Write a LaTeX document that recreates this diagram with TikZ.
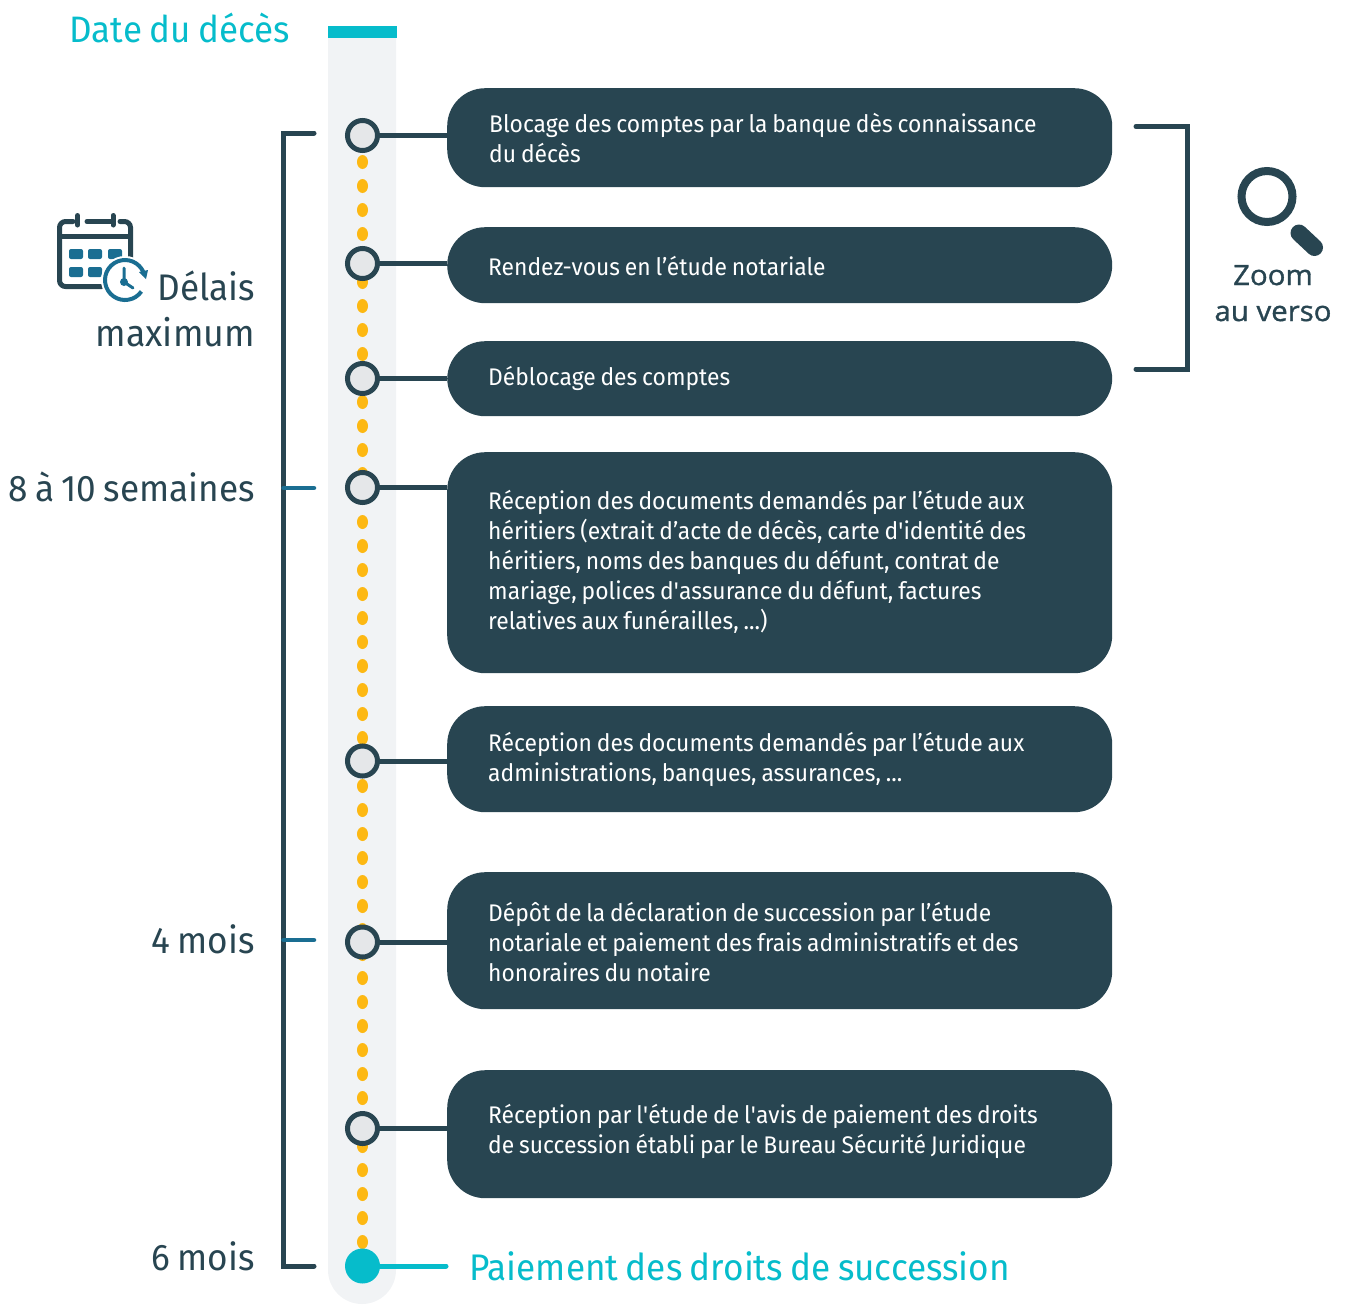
\documentclass[tikz,border=0pt]{standalone}
\usepackage{fontspec}
\setmainfont[FakeStretch=0.95,WordSpace=0.8]{Fira Sans}
\newfontfamily\zoomfont[FakeBold=1.2,FakeStretch=1.05]{Open Sans}
\definecolor{slate}{HTML}{284551}
\definecolor{teal}{HTML}{06BCCB}
\definecolor{track}{HTML}{F1F3F5}
\definecolor{amber}{HTML}{FDB813}
\definecolor{ringfill}{HTML}{E5E7E9}
\definecolor{tick}{HTML}{1A6E92}
\tikzset{
 x=1pt,y=-1pt,
 stepbox/.style={draw=none,fill=slate,rounded corners=38pt,minimum width=665pt,inner sep=0pt,anchor=north west},
 steptext/.style={text=white,inner sep=0pt,align=left,anchor=west,xshift=41pt,font=\fontsize{24.05}{30}\selectfont},
 ring/.style={circle,draw=slate,line width=5pt,fill=ringfill,minimum size=30pt,inner sep=0pt,outer sep=0pt},
 link/.style={draw=slate,line width=5pt},
 brace/.style={draw=slate,line width=5pt,line cap=round},
 lab/.style={text=slate,anchor=base east,inner sep=0pt,font=\fontsize{37}{37}\selectfont},
}
\begin{document}
\begin{tikzpicture}
\useasboundingbox (0,0) rectangle (1349,1304);
% track
\fill[track] (328,26) -- (396,26) -- (396,1270) arc[start angle=0,end angle=180,radius=34] -- cycle;
\fill[teal] (328,26) rectangle (397,38);
\foreach \k in {0,...,45}{\fill[amber] (362.5,162+24*\k) ellipse[x radius=5.5,y radius=7];}
% boxes
\node[stepbox,minimum height=99pt] (b1) at (447,88) {};
\node[stepbox,minimum height=76pt] (b2) at (447,227) {};
\node[stepbox,minimum height=75pt] (b3) at (447,341) {};
\node[stepbox,minimum height=221pt] (b4) at (447,452) {};
\node[stepbox,minimum height=106pt] (b5) at (447,706) {};
\node[stepbox,minimum height=137pt] (b6) at (447,872) {};
\node[stepbox,minimum height=128pt] (b7) at (447,1070) {};
\node[steptext,xshift=1pt] (x1) at (b1.west) {Blocage des comptes par la banque dès connaissance\\du décès};
\node[steptext,yshift=-1pt] (x2) at (b2.west) {Rendez-vous en l’étude notariale};
\node[steptext] (x3) at (b3.west) {Déblocage des comptes};
\node[steptext,yshift=1pt] (x4) at (b4.west) {Réception des documents demandés par l’étude aux\\héritiers (extrait d’acte de décès, carte d\textquotesingle identité des\\héritiers, noms des banques du défunt, contrat de\\mariage, polices d\textquotesingle assurance du défunt, factures\\relatives aux funérailles, ...)};
\node[steptext] (x5) at (b5.west) {Réception des documents demandés par l’étude aux\\administrations, banques, assurances, ...};
\node[steptext,yshift=-1pt] (x6) at (b6.west) {Dépôt de la déclaration de succession par l’étude\\notariale et paiement des frais administratifs et des\\honoraires du notaire};
\node[steptext,yshift=3pt] (x7) at (b7.west) {Réception par l\textquotesingle étude de l\textquotesingle avis de paiement des droits\\de succession établi par le Bureau Sécurité Juridique};
% rings
\node[ring] (n1) at (362.5,135.5) {};
\node[ring] (n2) at (362.5,263.5) {};
\node[ring] (n3) at (362.5,378.5) {};
\node[ring] (n4) at (362.5,487.5) {};
\node[ring] (n5) at (362.5,761) {};
\node[ring] (n6) at (362.5,942) {};
\node[ring] (n7) at (362.5,1128.5) {};
\node[circle,fill=teal,minimum size=35pt,inner sep=0pt,outer sep=0pt] (n8) at (362.5,1266) {};
\node[anchor=base west,inner sep=0pt,text=teal,font=\fontsize{37}{37}\selectfont] (end) at (469,1280) {Paiement des droits de succession};
\coordinate (endstop) at (446,1266);
\foreach \i in {1,...,7}{\draw[link] (n\i.east) -- (n\i.east -| b\i.west);}
\draw[draw=teal,line width=5pt,line cap=round] (n8.east) -- (endstop);
% left bracket
\coordinate (lt) at (314,133); \coordinate (lb) at (314,1266);
\coordinate (lc1) at (283.5,133); \coordinate (lc2) at (283.5,1266);
\draw[brace,line join=miter,line cap=round] (lt) -- (lc1) -- (lc2) -- (lb);
\coordinate (t1) at (314,488); \coordinate (t2) at (314,940);
\draw[draw=tick,line width=4.5pt,line cap=round] (t1) -- (t1 -| lc1);
\draw[draw=tick,line width=4.5pt,line cap=round] (t2) -- (t2 -| lc1);
% right bracket
\coordinate (rt) at (1136,126.5); \coordinate (rb) at (1136,369);
\coordinate (rc1) at (1187,126.5); \coordinate (rc2) at (1187,369);
\draw[brace,line join=miter] (rt) -- (rc1) -- (rc2) -- (rb);
% labels
\node[anchor=base west,inner sep=0pt,text=teal,font=\fontsize{36.8}{37}\selectfont] (date) at (69.5,42) {Date du décès};
\node[lab] (d1) at (255,300) {Délais};
\node[lab,font=\fontsize{37.5}{38}\selectfont] (d2) at (255,346) {maximum};
\node[lab] (s1) at (255,501) {8 à 10 semaines};
\node[lab] (s2) at (255,953) {4 mois};
\node[lab] (s3) at (255,1270) {6 mois};
% zoom
\node[anchor=base,inner sep=0pt,text=slate,font=\zoomfont\fontsize{28}{28}\selectfont] (z1) at (1273,285) {Zoom};
\node[anchor=base,inner sep=0pt,text=slate,font=\zoomfont\fontsize{28}{28}\selectfont] (z2) at (1273,321) {au verso};
\draw[slate,line width=8pt] (1267,196.5) circle[radius=25.5];
\draw[slate,line width=17pt,line cap=round] (1299,233) -- (1314.5,247.5);
% calendar icon
\draw[slate,line width=5pt,line cap=round,line join=round,rounded corners=6pt] (73,221.5) -- (59.5,221.5) -- (59.5,286.5) -- (102,286.5);
\draw[slate,line width=5pt,line cap=round] (87,221.5) -- (113,221.5);
\draw[slate,line width=5pt,line cap=round,rounded corners=6pt] (120,221.5) -- (130.5,221.5) -- (130.5,258);
\draw[slate,line width=5pt] (59.5,236) -- (130.5,236);
\draw[slate,line width=5pt,line cap=round] (77.5,215.5) -- (77.5,225);
\draw[slate,line width=5pt,line cap=round] (113,215.5) -- (113,225);
\foreach \x/\y in {69/249,88/249,108/249,69/267,88/267}{\fill[tick,rounded corners=2pt] (\x,\y) rectangle ++(14,10);}
\fill[white] (125,280) circle[radius=24];
\draw[tick,line width=4pt] (125,280) ++(35:20) arc[start angle=35,end angle=345,radius=20];
\fill[tick] (148,270) -- (146,279) -- (139,272) -- cycle;
\draw[tick,line width=3pt,line cap=round] (124,268) -- (124,282) -- (133,288);
\fill[tick] (124,282) circle[radius=4];
\end{tikzpicture}
\end{document}
